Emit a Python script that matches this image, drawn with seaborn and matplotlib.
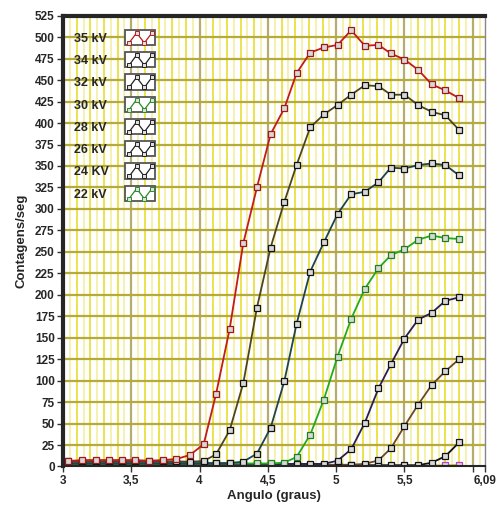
import numpy as np
import pandas as pd
import seaborn as sns
import matplotlib
matplotlib.use("Agg")
import matplotlib.pyplot as plt
from matplotlib.lines import Line2D
from matplotlib.patches import Rectangle
from matplotlib.legend_handler import HandlerBase

# angle positions (graus), shared by all series
angulo = [3.04, 3.14, 3.24, 3.34, 3.43, 3.53, 3.63, 3.73, 3.83, 3.93,
          4.03, 4.12, 4.22, 4.32, 4.42, 4.52, 4.62, 4.71, 4.81, 4.91,
          5.01, 5.11, 5.21, 5.31, 5.40, 5.50, 5.60, 5.70, 5.80, 5.90]

kv35 = [6.4, 7.5, 7.5, 7.5, 7.5, 7.5, 6.7, 7.5, 8.7, 13.4,
        26, 84, 160, 260, 325, 387, 417, 458, 482, 488,
        491, 508, 490, 491, 481, 474, 462, 445, 438, 429]
kv34 = [6, 6, 6, 6, 6, 6, 6, 6, 6, 5.5,
        6.4, 14, 42, 97, 185, 255, 308, 351, 395, 410,
        421, 433, 444, 443, 433, 433, 421, 413, 409, 392]
kv32 = [4, 4, 4, 4, 4, 4, 4, 4, 4, 4,
        4, 4, 4, 5.6, 15, 45, 99, 166, 227, 261,
        294, 317, 320, 331, 348, 347, 351, 353, 351, 339]
kv30 = [3.5, 3.5, 3.5, 3.5, 3.5, 3.5, 3.5, 3.5, 3.5, 3.5,
        3.5, 3.5, 3.5, 3.5, 3.5, 3.5, 4.5, 11, 37, 78,
        128, 172, 207, 231, 246, 253, 264, 269, 266, 265]
kv28 = [3, 3, 3, 3, 3, 3, 3, 3, 3, 3,
        3, 3, 3, 3, 3, 3, 3, 3, 3, 3,
        6.8, 20, 51, 91, 119, 149, 171, 179, 193, 197]
kv26 = [2, 2, 2, 2, 2, 2, 2, 2, 2, 2,
        2, 2, 2, 2, 2, 2, 2, 2, 2, 2,
        2, 2, 3, 7.2, 21, 47, 72, 95, 111, 125]
kv24 = [1.5, 1.5, 1.5, 1.5, 1.5, 1.5, 1.5, 1.5, 1.5, 1.5,
        1.5, 1.5, 1.5, 1.5, 1.5, 1.5, 1.5, 1.5, 1.5, 1.5,
        1.5, 1.5, 1.5, 1.5, 1.5, 1.5, 1.5, 4.4, 12, 28]
kv22 = [0.5, 0.5, 0.5, 0.5, 0.5, 0.5, 0.5, 0.5, 0.5, 0.5,
        0.5, 0.5, 0.5, 0.5, 0.5, 0.5, 0.5, 0.5, 0.5, 0.5,
        0.5, 0.5, 0.5, 0.5, 0.5, 0.5, 0.5, 1, 1.5, 2]

series_labels = ["35 kV", "34 kV", "32 kV", "30 kV", "28 kV", "26 kV", "24 KV", "22 kV"]
series_values = [kv35, kv34, kv32, kv30, kv28, kv26, kv24, kv22]
line_colors = ["#c41a1a", "#4d4420", "#1d4450", "#22aa22", "#2a1f55", "#6e4526", "#111111", "#c8c820"]
edge_colors = ["#a01818", "#111111", "#111111", "#1f7f1f", "#111111", "#111111", "#111111", "#c040c0"]
icon_colors = ["#b02020", "#222222", "#222222", "#2a8a2a", "#222222", "#222222", "#222222", "#2a8a2a"]

x_ticks = [3, 3.5, 4, 4.5, 5, 5.5, 6.0, 6.09]
x_ticklabels = ["3", "3,5", "4", "4,5", "5", "5,5", "", "6,09"]

rows = []
for lab, vals in zip(series_labels, series_values):
    for a, v in zip(angulo, vals):
        rows.append({"angulo": a, "contagens": v, "serie": lab})
df = pd.DataFrame(rows)

sns.set_style("white")
plt.rcParams["font.family"] = ["Liberation Sans", "DejaVu Sans"]

fig = plt.figure(figsize=(4.97, 5.07), dpi=100)
ax = fig.add_axes([0.1268, 0.0799, 0.8491, 0.8891])

# grid: pale/bright yellow verticals every 0.05, olive every 0.5, olive horizontals every 25
for i, gx in enumerate(np.arange(3.05, 6.09, 0.05)):
    if abs(gx * 2 - round(gx * 2)) < 1e-6:
        continue
    col = "#e6dc1e" if i % 2 == 1 else "#f3ee9a"
    ax.axvline(gx, color=col, lw=1.1, zorder=0)
for gx in [3.5, 4, 4.5, 5, 5.5, 6.0]:
    ax.axvline(gx, color="#b5ad68", lw=1.6, zorder=0.5)
for gy in range(25, 525, 25):
    ax.axhline(gy, color="#b5aa3a", lw=1.6, zorder=0.5)

# draw longest-first so low curves sit on top like the original
for lab, lc, ec in reversed(list(zip(series_labels, line_colors, edge_colors))):
    sns.lineplot(data=df[df["serie"] == lab], x="angulo", y="contagens",
                 color=lc, lw=1.3, marker="s", markersize=4.2,
                 markerfacecolor="#d8d8d8", markeredgecolor=ec, markeredgewidth=0.9,
                 ax=ax, zorder=3, legend=False)

ax.set_xlim(3, 6.09)
ax.set_ylim(0, 525)
ax.set_xticks(x_ticks)
ax.set_xticklabels(x_ticklabels)
ax.set_yticks(range(0, 526, 25))
ax.tick_params(axis="both", direction="out", length=4, width=1, color="#333333",
               labelsize=8.5, pad=2, bottom=True, left=True)
for t in ax.get_xticklabels() + ax.get_yticklabels():
    t.set_fontweight("bold")
ax.set_xlabel("Angulo (graus)", fontsize=9.5, fontweight="bold", labelpad=2)
ax.set_ylabel("Contagens/seg", fontsize=9.5, fontweight="bold", labelpad=5)

ax.spines["left"].set_linewidth(3)
ax.spines["top"].set_linewidth(3)
ax.spines["bottom"].set_linewidth(1.5)
ax.spines["right"].set_linewidth(1)
ax.spines["right"].set_color("#888888")
for s in ax.spines.values():
    s.set_zorder(5)


class ZigHandler(HandlerBase):
    def create_artists(self, legend, orig_handle, xdescent, ydescent,
                       width, height, fontsize, trans):
        x0, y0 = -xdescent, -ydescent
        box = Rectangle((x0, y0 - 0.18 * height), width, 1.36 * height,
                        fc="white", ec="#555555", lw=1.3, transform=trans)
        xs = x0 + width * np.array([0.12, 0.37, 0.63, 0.88])
        ys = y0 + height * np.array([0.02, 0.92, 0.02, 0.92])
        c = orig_handle.get_color()
        zig = Line2D(xs, ys, color=c, lw=0.9, marker="s", markersize=2.6,
                     markerfacecolor="#dddddd", markeredgecolor=c,
                     markeredgewidth=0.7, transform=trans)
        return [box, zig]


handles = [Line2D([], [], color=c) for c in icon_colors]
leg = ax.legend(handles, series_labels, handler_map={Line2D: ZigHandler()},
                loc="upper left", bbox_to_anchor=(0.015, 0.975), frameon=False,
                markerfirst=False, prop={"weight": "bold", "size": 9},
                handlelength=2.4, handleheight=1.0, handletextpad=1.3,
                labelspacing=0.75, borderaxespad=0)
leg.set_zorder(6)

# left-align the legend labels (rows are right-aligned when markerfirst=False)
try:
    fig.canvas.draw()
    renderer = fig.canvas.get_renderer()
    widths = [t.get_window_extent(renderer).width for t in leg.get_texts()]
    maxw = max(widths)
    column = leg._legend_handle_box.get_children()[0]
    for row, w in zip(column.get_children(), widths):
        row.sep += (maxw - w) * 72.0 / fig.dpi
except Exception:
    pass

fig.savefig("out.png", dpi=100)
